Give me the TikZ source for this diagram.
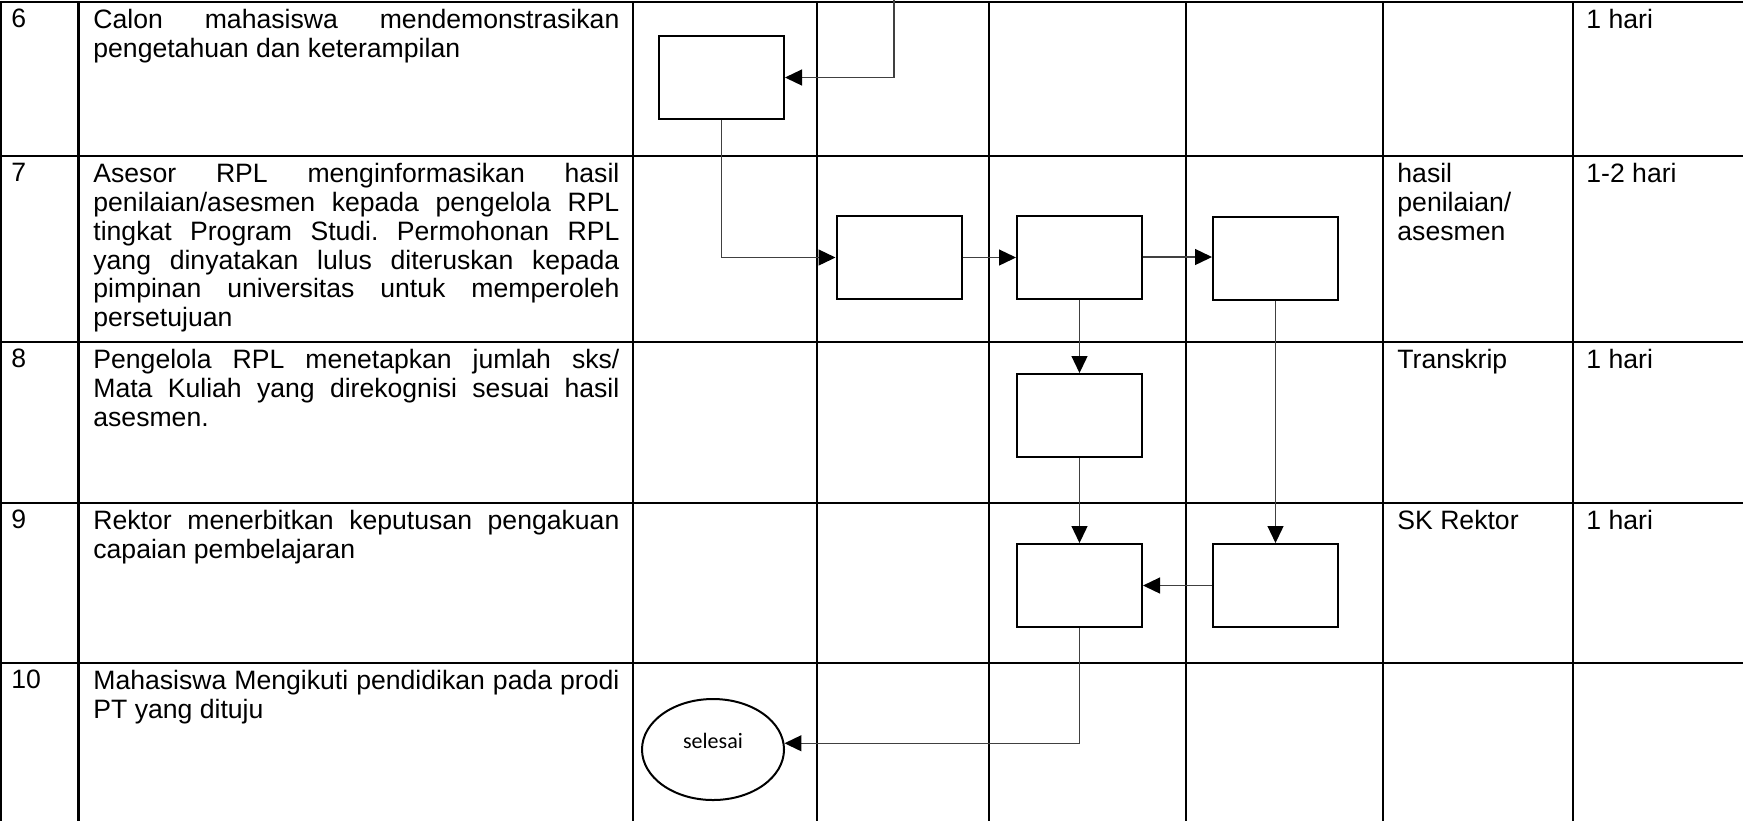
\documentclass[tikz,border=0pt]{standalone}
\usepackage{fontspec}
\setmainfont{Liberation Sans}
\newfontfamily\calibrifont{Carlito}
\definecolor{linegray}{RGB}{64,64,64}
\usetikzlibrary{arrows.meta,shapes.geometric}

\begin{document}
\begin{tikzpicture}[x=0.5pt,y=-0.5pt,
  cell/.style={anchor=north west, inner sep=0pt, align=left, font=\fontsize{13.3}{14.4}\selectfont},
  desc/.style={cell, text width=263pt, align=justify,
    execute at begin node={\frenchspacing\hyphenpenalty=10000\exhyphenpenalty=10000}},
  stepbox/.style={draw, line width=1pt, minimum width=62.5pt, minimum height=41.5pt, inner sep=0pt},
  flow/.style={draw=linegray, line width=0.65pt, -{Triangle[length=8.5pt,width=8pt,color=black]}}]
  \useasboundingbox (0,0) rectangle (1743,821);

  % Table grid
  \draw[line width=1.4pt] (1743,2) -- (1,2) -- (1,821);
  \foreach \x in {78.5,633,817,989,1186,1383,1573}
    \draw[line width=1.4pt] (\x,2) -- (\x,821);
  \foreach \y in {156,342,503,663}
    \draw[line width=1.4pt] (1,\y) -- (1743,\y);

  % Row 6
  \node[cell] (n6) at (11,9) {6};
  \node[desc] (t6) at (93,9) {Calon mahasiswa mendemonstrasikan\linebreak pengetahuan dan keterampilan};
  \node[cell] (w6) at (1586,9) {1 hari};

  % Row 7
  \node[cell] (n7) at (11,163) {7};
  \node[desc] (t7) at (93,163) {Asesor RPL menginformasikan hasil\linebreak penilaian/asesmen kepada pengelola RPL\linebreak tingkat Program Studi. Permohonan RPL\linebreak yang dinyatakan lulus diteruskan kepada\linebreak pimpinan universitas untuk memperoleh\linebreak persetujuan};
  \node[cell] (d7) at (1397,163) {hasil\\penilaian/\\asesmen};
  \node[cell] (w7) at (1586,163) {1-2 hari};

  % Row 8
  \node[cell] (n8) at (11,349) {8};
  \node[desc] (t8) at (93,349) {Pengelola RPL menetapkan jumlah sks/\linebreak Mata Kuliah yang direkognisi sesuai hasil\linebreak asesmen.};
  \node[cell] (d8) at (1397,349) {Transkrip};
  \node[cell] (w8) at (1586,349) {1 hari};

  % Row 9
  \node[cell] (n9) at (11,510) {9};
  \node[desc] (t9) at (93,510) {Rektor menerbitkan keputusan pengakuan\linebreak capaian pembelajaran};
  \node[cell] (d9) at (1397,510) {SK Rektor};
  \node[cell] (w9) at (1586,510) {1 hari};

  % Row 10
  \node[cell] (n10) at (11,670) {10};
  \node[desc] (t10) at (93,670) {Mahasiswa Mengikuti pendidikan pada prodi\linebreak PT yang dituju};

  % Flow boxes
  \node[stepbox] (b6) at (721.5,77.5) {};
  \node[stepbox] (b7a) at (899,257.5) {};
  \node[stepbox] (b7b) at (1079.5,257) {};
  \node[stepbox] (b7c) at (1275.5,258) {};
  \node[stepbox] (b8) at (1079.5,415.5) {};
  \node[stepbox] (b9a) at (1079.5,585.5) {};
  \node[stepbox] (b9b) at (1275.5,585.5) {};
  \node[draw, ellipse, line width=1pt, minimum width=71pt, minimum height=50.5pt, inner sep=0pt,
    font=\calibrifont\fontsize{11}{13}\selectfont, text depth=9pt] (selesai) at (713,749.5) {selesai};
  \coordinate (in6) at (894,0);

  % Connectors
  \draw[flow] (in6) |- (b6.east);
  \draw[flow] (b6.south) |- (b7a.west);
  \draw[flow] (b7a.east) -- (b7a.east -| b7b.west);
  \draw[flow] (b7b.east) -- (b7b.east -| b7c.west);
  \draw[flow] (b7b.south) -- (b8.north);
  \draw[flow] (b8.south) -- (b9a.north);
  \draw[flow] (b7c.south) -- (b9b.north);
  \draw[flow] (b9b.west) -- (b9a.east);
  \draw[flow] (b9a.south) |- (selesai.5);
\end{tikzpicture}
\end{document}
